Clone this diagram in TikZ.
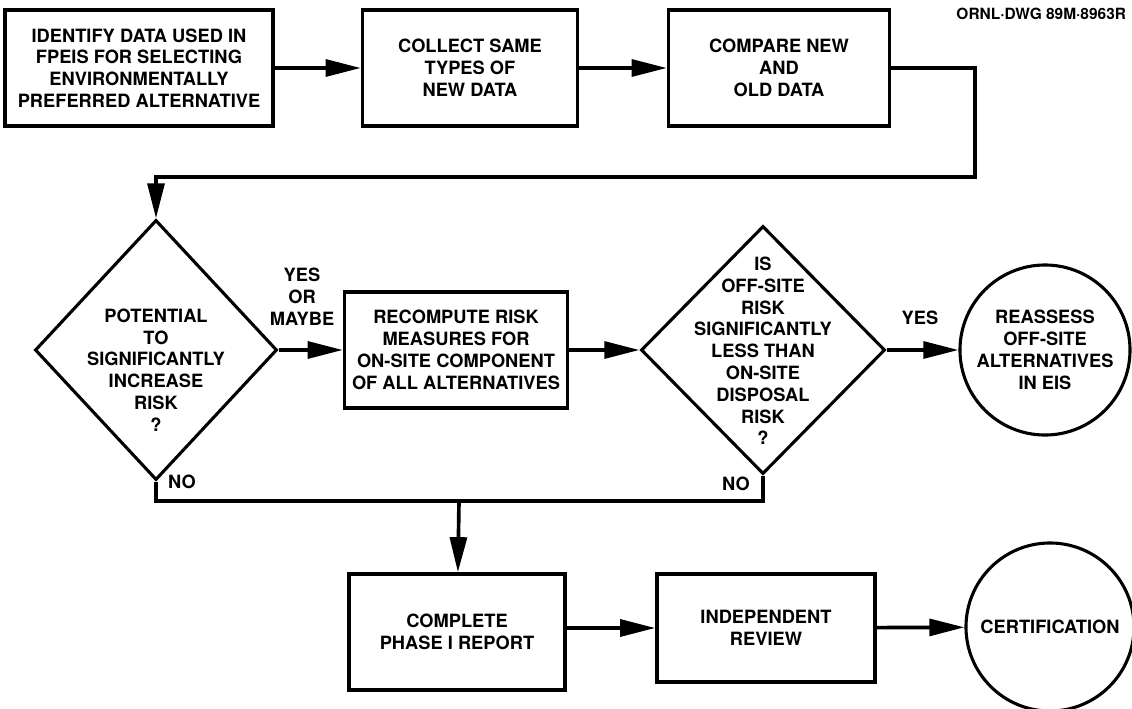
\documentclass[tikz,border=0pt]{standalone}
\usepackage{fontspec}
\setmainfont{TeX Gyre Heros}
\usetikzlibrary{arrows.meta,shapes.geometric}

\begin{document}
\begin{tikzpicture}[x=0.025cm,y=-0.025cm,
  font=\fontsize{13}{15.5}\selectfont\bfseries,
  procbox/.style={draw,line width=2.4pt,align=center,minimum height=2.9cm,inner sep=0pt},
  decision/.style={draw,diamond,line width=2.2pt,inner sep=0pt},
  ending/.style={draw,circle,line width=2.2pt,align=center,inner sep=0pt},
  flow/.style={line width=2.6pt,-{Triangle[length=25pt,width=12pt]}},
  wire/.style={line width=2.6pt},
  txt/.style={align=center,inner sep=0pt}]
\useasboundingbox (0,0) rectangle (1132,709);
% Drawing number
\node[anchor=east,font=\fontsize{11}{13}\selectfont\bfseries] (dwg) at (1131,14) {ORNL·DWG 89M·8963R};
% Top row
\node[procbox,minimum width=6.7cm] (identify) at (139,68)
  {IDENTIFY DATA USED IN\\FPEIS FOR SELECTING\\ENVIRONMENTALLY\\PREFERRED ALTERNATIVE};
\node[procbox,minimum width=5.375cm] (collect) at (470,68)
  {COLLECT SAME\\TYPES OF\\NEW DATA};
\node[procbox,minimum width=5.525cm] (compare) at (779,68)
  {COMPARE NEW\\AND\\OLD DATA};
\draw[flow] (identify) -- (collect);
\draw[flow] (collect) -- (compare);
% Middle row
\node[decision,minimum width=6.05cm,minimum height=6.5cm] (potential) at (156,350) {};
\node[txt] (potentialtext) at (156,370)
  {POTENTIAL\\TO\\SIGNIFICANTLY\\INCREASE\\RISK\\?};
\node[procbox,minimum width=5.575cm] (recompute) at (456,350)
  {RECOMPUTE RISK\\MEASURES FOR\\ON-SITE COMPONENT\\OF ALL ALTERNATIVES};
\node[decision,minimum width=6.1cm,minimum height=6.2cm] (offsite) at (763,350) {};
\node[txt] (offsitetext) at (763,351)
  {IS\\OFF-SITE\\RISK\\SIGNIFICANTLY\\LESS THAN\\ON-SITE\\DISPOSAL\\RISK\\?};
\node[ending,minimum size=4.25cm] (reassess) at (1045,350)
  {REASSESS\\OFF-SITE\\ALTERNATIVES\\IN EIS};
% Return line from the top row
\coordinate (turn) at (975,177);
\draw[flow] (compare.east) -| (turn) -| (potential.north);
\draw[flow] (potential.east) -- (recompute);
\draw[flow] (recompute) -- (offsite.west);
\draw[flow] (offsite.east) -- (reassess);
\node[txt] (yesmaybe) at (302,297) {YES\\OR\\MAYBE};
\node[txt] (yes) at (920,318) {YES};
% NO branches
\coordinate (bus) at (459,501);
\draw[wire] (potential.south) |- (bus) -| (offsite.south);
\node[txt] (no1) at (182,482) {NO};
\node[txt] (no2) at (736,484) {NO};
% Bottom row
\node[procbox,minimum width=5.4cm] (report) at (457,632)
  {COMPLETE\\PHASE I REPORT};
\node[procbox,minimum width=5.45cm,minimum height=2.7cm] (review) at (766,628)
  {INDEPENDENT\\REVIEW};
\node[ending,minimum size=4.2cm] (cert) at (1050,627) {CERTIFICATION};
\draw[flow] (bus) -- (report);
\draw[flow] (report.east |- review) -- (review);
\draw[flow] (review) -- (cert);
\end{tikzpicture}
\end{document}
